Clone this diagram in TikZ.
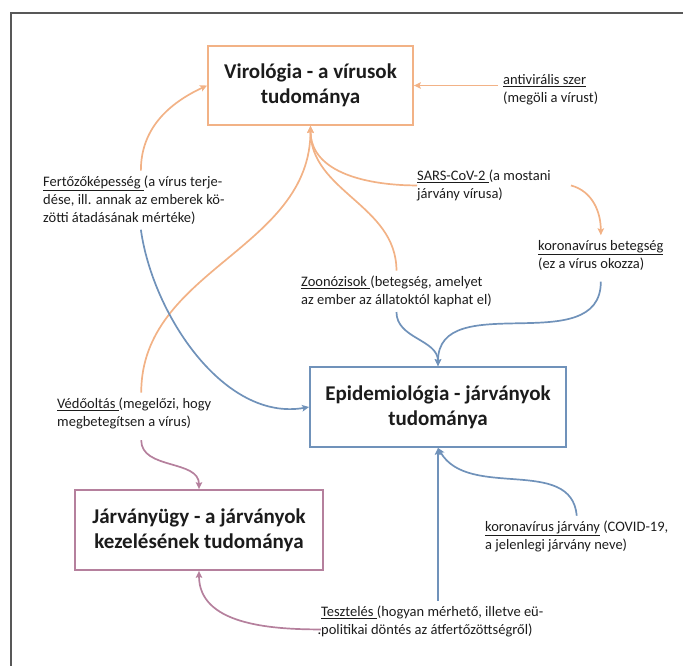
\documentclass[tikz,border=0pt]{standalone}
\usepackage{fontspec}
\setmainfont{Carlito}
\usetikzlibrary{arrows.meta}
\definecolor{virorange}{RGB}{242,178,134}
\definecolor{epiblue}{RGB}{112,146,186}
\definecolor{ugypurple}{RGB}{181,128,157}
\definecolor{framegray}{RGB}{88,88,88}
\definecolor{inkblack}{RGB}{28,28,28}

\begin{document}
\begin{tikzpicture}[x=1pt, y=1pt,
    title/.style={draw, line width=1.8pt, fill=white, text=inkblack, minimum height=80pt, align=center, font=\fontsize{21}{25}\selectfont\bfseries},
    note/.style={anchor=base west, align=left, text=inkblack, inner xsep=0pt, inner ysep=5pt, font=\fontsize{14.5}{18}\selectfont},
    link/.style={line width=1.7pt, -{Stealth[length=7pt,width=6.5pt,inset=1.5pt]}}]
        \useasboundingbox (0,0) rectangle (683,-666);
        \draw[framegray, line width=1.5pt] (11,-666) -- (11,-13) -- (683,-13);

        \node[title, draw=virorange, minimum width=205pt, minimum height=79pt] (virologia) at (310.5,-85.5) {Virológia - a vírusok\\tudománya};
        \node[title, draw=epiblue, minimum width=256pt] (epidemiologia) at (438,-407) {Epidemiológia - járványok\\tudománya};
        \node[title, draw=ugypurple, minimum width=248pt] (jarvanyugy) at (199,-530) {Járványügy - a járványok\\kezelésének tudománya};

        \node[note] (antiviral) at (503,-102.5) {\underline{antivirális szer}\\(megöli a vírust)};
        \node[note] (fertozo) at (43,-222.5) {\underline{Fertőzőképesség }(a vírus terje-\\dése, ill. annak az emberek kö-\\zötti átadásának mértéke)};
        \node[note] (sars) at (417,-198.5) {\underline{SARS-CoV-2 }(a mostani\\járvány vírusa)};
        \node[note] (korona) at (538,-268.5) {\underline{koronavírus betegség}\\(ez a vírus okozza)};
        \node[note] (zoonozis) at (301,-304.5) {\underline{Zoonózisok }(betegség, amelyet\\az ember az állatoktól kaphat el)};
        \node[note] (vedooltas) at (57,-426.5) {\underline{Védőoltás }(megelőzi, hogy\\megbetegítsen a vírus)};
        \node[note] (kjarvany) at (485,-549.5) {\underline{koronavírus járvány} (COVID-19,\\a jelenlegi járvány neve)};
        \node[note] (teszteles) at (321,-634.5) {\underline{Tesztelés }(hogyan mérhető, illetve eü-\\\llap{.}politikai döntés az átfertőzöttségről)};

        \draw[link, virorange] ([xshift=-5pt]virologia.east -| antiviral.west) -- (virologia.east);
        \draw[link, virorange] ([xshift=7pt]fertozo.north) to[out=90, in=205] (virologia.west);
        \draw[link, virorange] (sars.west) to[out=180, in=-90] (virologia.south);
        \draw[link, virorange] (zoonozis.north) to[out=90, in=-90] (virologia.south);
        \draw[link, virorange] ([xshift=7pt]vedooltas.north) to[out=90, in=-90] (virologia.south);
        \draw[link, virorange] ([xshift=20pt]sars.east) to[out=-15, in=90] (korona.north);

        \draw[link, epiblue] ([yshift=-6pt]korona.south) to[out=-90, in=90, looseness=1.1] (epidemiologia.north);
        \draw[link, epiblue] (zoonozis.south) to[out=-90, in=90] (epidemiologia.north);
        \draw[link, epiblue] ([xshift=7pt]fertozo.south) to[out=-82, in=190, looseness=0.9] (epidemiologia.west);
        \draw[link, epiblue] (teszteles.north -| epidemiologia.south) -- (epidemiologia.south);
        \draw[link, epiblue] (kjarvany.north) to[out=95, in=-60] (epidemiologia.south);

        \draw[link, ugypurple] ([xshift=7pt,yshift=-6pt]vedooltas.south) to[out=-90, in=90] (jarvanyugy.north);
        \draw[link, ugypurple] ([yshift=-8pt]teszteles.west) to[out=180, in=-90] (jarvanyugy.south);
    \end{tikzpicture}
\end{document}
